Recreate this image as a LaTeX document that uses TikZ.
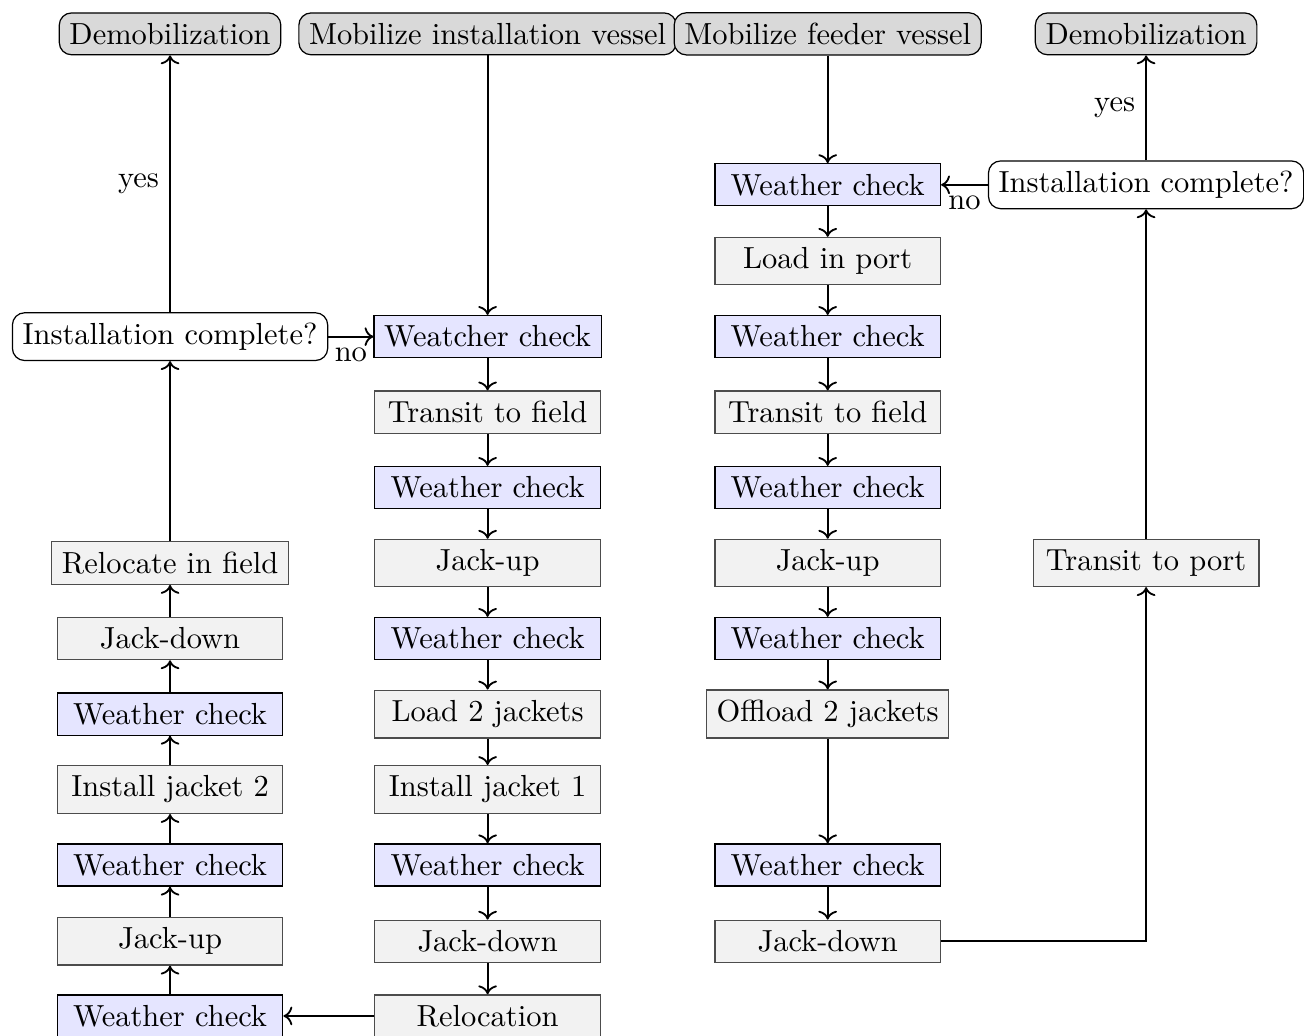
\documentclass[tikz,border=0pt]{standalone}
\usepackage{tikz}
\usepackage{xcolor}
\usetikzlibrary{arrows.meta,calc}
\tikzset{
  milestone/.style={draw, rounded corners, fill=black!15},
  decision/.style={draw, rounded corners, fill=white},
  wcheck/.style={draw, fill=blue!10, minimum width=2.6cm},
  task/.style={draw=black!70, fill=black!5, minimum width=2.6cm},
  flow/.style={->, semithick},
}

\begin{document}
\begin{tikzpicture}
  \useasboundingbox (0,0) rectangle (15.03,-11.94);
  % top row
  \node[milestone] (idemob) at (1.96,-0.39) {Demobilization};
  \node[milestone] (imob) at (5.62,-0.39) {Mobilize installation vessel};
  \node[milestone] (fmob) at (9.54,-0.39) {Mobilize feeder vessel};
  \node[milestone] (fdemob) at (13.21,-0.39) {Demobilization};
  % installation vessel, down
  \node[wcheck] (iw1) at (5.62,-3.88) {Weatcher check};
  \node[task] (it) at (5.62,-4.75) {Transit to field};
  \node[wcheck] (iw2) at (5.62,-5.62) {Weather check};
  \node[task] (iju) at (5.62,-6.49) {Jack-up};
  \node[wcheck] (iw3) at (5.62,-7.36) {Weather check};
  \node[task] (il) at (5.62,-8.23) {Load 2 jackets};
  \node[task] (ij1) at (5.62,-9.10) {Install jacket 1};
  \node[wcheck] (iw4) at (5.62,-9.97) {Weather check};
  \node[task] (ijd) at (5.62,-10.85) {Jack-down};
  \node[task] (ir) at (5.62,-11.71) {Relocation};
  % installation vessel, up
  \node[wcheck] (iw5) at (1.96,-11.71) {Weather check};
  \node[task] (iju2) at (1.96,-10.85) {Jack-up};
  \node[wcheck] (iw6) at (1.96,-9.97) {Weather check};
  \node[task] (ij2) at (1.96,-9.10) {Install jacket 2};
  \node[wcheck] (iw7) at (1.96,-8.23) {Weather check};
  \node[task] (ijd2) at (1.96,-7.36) {Jack-down};
  \node[task] (irf) at (1.96,-6.49) {Relocate in field};
  \node[decision] (idec) at (1.96,-3.88) {Installation complete?};
  % feeder vessel
  \node[wcheck] (fw1) at (9.54,-2.13) {Weather check};
  \node[task] (flp) at (9.54,-3.01) {Load in port};
  \node[wcheck] (fw2) at (9.54,-3.88) {Weather check};
  \node[task] (ft) at (9.54,-4.75) {Transit to field};
  \node[wcheck] (fw3) at (9.54,-5.62) {Weather check};
  \node[task] (fju) at (9.54,-6.49) {Jack-up};
  \node[wcheck] (fw4) at (9.54,-7.36) {Weather check};
  \node[task] (fo) at (9.54,-8.23) {Offload 2 jackets};
  \node[wcheck] (fw5) at (9.54,-9.97) {Weather check};
  \node[task] (fjd) at (9.54,-10.85) {Jack-down};
  \node[task] (ftp) at (13.21,-6.49) {Transit to port};
  \node[decision] (fdec) at (13.21,-2.13) {Installation complete?};

  % connectors
  \foreach \a/\b in {imob/iw1, iw1/it, it/iw2, iw2/iju, iju/iw3, iw3/il, il/ij1,
      ij1/iw4, iw4/ijd, ijd/ir, ir/iw5, iw5/iju2, iju2/iw6, iw6/ij2, ij2/iw7,
      iw7/ijd2, ijd2/irf, irf/idec,
      fmob/fw1, fw1/flp, flp/fw2, fw2/ft, ft/fw3, fw3/fju, fju/fw4, fw4/fo,
      fo/fw5, fw5/fjd, ftp/fdec}
    \draw[flow] (\a) -- (\b);
  \draw[flow] (idec) -- node[left] {yes} (idemob);
  \draw[flow] (idec) -- node[below] {no} (iw1);
  \draw[flow] (fdec) -- node[left] {yes} (fdemob);
  \draw[flow] (fdec) -- node[below] {no} (fw1);
  \draw[flow] (fjd) -| (ftp);
\end{tikzpicture}
\end{document}
